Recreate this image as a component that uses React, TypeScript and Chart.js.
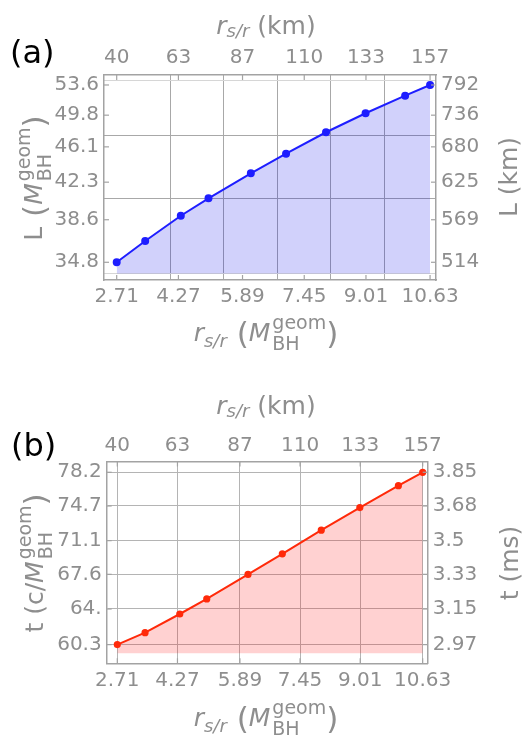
import React, { useEffect, useRef } from 'react';
import { Chart, registerables } from 'chart.js';

Chart.register(...registerables);

// ---------- data ----------
const KM_PER_MBH = 14.77;

const rValues = [2.71, 3.43, 4.33, 5.03, 6.1, 6.99, 8.0, 9.0, 10.0, 10.63];
const lengthValues = [34.8, 36.65, 38.98, 40.67, 43.22, 45.34, 47.77, 50.03, 52.22, 53.6];
const timeValues = [60.3, 61.54, 63.48, 65.05, 67.59, 69.73, 72.19, 74.53, 76.81, 78.2];

const rTickValues = [2.71, 4.27, 5.89, 7.45, 9.01, 10.63];
const rTickLabels = ['2.71', '4.27', '5.89', '7.45', '9.01', '10.63'];
const rKmTickLabels = ['40', '63', '87', '110', '133', '157'];

const lengthTickValues = [34.8, 38.6, 42.3, 46.1, 49.8, 53.6];
const lengthTickLabels = ['34.8', '38.6', '42.3', '46.1', '49.8', '53.6'];
const lengthKmTickLabels = ['514', '569', '625', '680', '736', '792'];

const timeTickValues = [60.3, 64.0, 67.6, 71.1, 74.7, 78.2];
const timeTickLabels = ['60.3', '64.', '67.6', '71.1', '74.7', '78.2'];
const timeMsTickLabels = ['2.97', '3.15', '3.33', '3.5', '3.68', '3.85'];

const rKmGridValues = [60, 80, 100, 120, 140];
const lengthKmGridValues = [500, 600, 700, 800];

// ---------- style ----------
const FONT = '"DejaVu Sans", sans-serif';
const TEXT = '#8e8e8e';
const FRAME = '#a3a3a3';
const GRID_A = '#a8a8a8';
const GRID_A_LIGHT = '#d6d6d6';
const GRID_B = '#b4b4b4';
const BLUE = '#1e1eff';
const BLUE_FILL = 'rgba(0,0,235,0.18)';
const RED = '#ff2a0a';
const RED_FILL = 'rgba(255,0,0,0.18)';

// ---------- rich text ----------
type TextSeg = { text: string; size: number; italic?: boolean; dy?: number };
type StackSeg = { sup: string; sub: string; size: number; supDy: number; subDy: number };
type Seg = TextSeg | StackSeg;
type RichItem = { segs: Seg[]; x: number; y: number; rotate?: boolean; align?: 'center' | 'left'; color?: string };

const fontStr = (size: number, italic?: boolean) => `${italic ? 'italic ' : ''}${size}px ${FONT}`;

function segWidth(ctx: CanvasRenderingContext2D, s: Seg) {
  if ('text' in s) {
    ctx.font = fontStr(s.size, s.italic);
    return ctx.measureText(s.text).width;
  }
  ctx.font = fontStr(s.size);
  return Math.max(ctx.measureText(s.sup).width, ctx.measureText(s.sub).width);
}

function drawRich(ctx: CanvasRenderingContext2D, item: RichItem) {
  ctx.save();
  ctx.translate(item.x, item.y);
  if (item.rotate) ctx.rotate(-Math.PI / 2);
  ctx.fillStyle = item.color || TEXT;
  ctx.textAlign = 'left';
  ctx.textBaseline = 'alphabetic';
  const widths = item.segs.map((s) => segWidth(ctx, s));
  const total = widths.reduce((a, b) => a + b, 0);
  let cx = item.align === 'left' ? 0 : -total / 2;
  item.segs.forEach((s, i) => {
    if ('text' in s) {
      ctx.font = fontStr(s.size, s.italic);
      ctx.fillText(s.text, cx, s.dy || 0);
    } else {
      ctx.font = fontStr(s.size);
      ctx.fillText(s.sup, cx, s.supDy);
      ctx.fillText(s.sub, cx, s.subDy);
    }
    cx += widths[i];
  });
  ctx.restore();
}

const rSub = (dy: number): Seg[] => [
  { text: 'r', size: 25, italic: true },
  { text: 's/r', size: 18, italic: true, dy },
];
const mGeom: Seg[] = [
  { text: 'M', size: 25, italic: true },
  { text: '\u2009', size: 10 },
  { sup: 'geom', sub: 'BH', size: 19, supDy: -12, subDy: 9 },
];
const openParen: Seg = { text: ' (', size: 31, dy: 3 };
const closeParen: Seg = { text: ')', size: 31, dy: 3 };

const titlesPlugin = {
  id: 'richTitles',
  afterDraw(chart: any, _args: any, opts: any) {
    const ctx = chart.ctx as CanvasRenderingContext2D;
    (opts.items || []).forEach((it: RichItem) => drawRich(ctx, it));
  },
};

const frameTicksPlugin = {
  id: 'frameTicks',
  afterDatasetsDraw(chart: any, _args: any, opts: any) {
    const ctx = chart.ctx as CanvasRenderingContext2D;
    const { left, right, top, bottom } = chart.chartArea;
    const len = opts.length || 5;
    ctx.save();
    ctx.strokeStyle = FRAME;
    ctx.lineWidth = 1.2;
    ['x', 'x2', 'y', 'y2'].forEach((id) => {
      const s = chart.scales[id];
      if (!s) return;
      s.ticks.forEach((t: any) => {
        const p = s.getPixelForValue(t.value);
        ctx.beginPath();
        if (s.position === 'bottom') { ctx.moveTo(p, bottom); ctx.lineTo(p, bottom - len); }
        else if (s.position === 'top') { ctx.moveTo(p, top); ctx.lineTo(p, top + len); }
        else if (s.position === 'left') { ctx.moveTo(left, p); ctx.lineTo(left + len, p); }
        else { ctx.moveTo(right, p); ctx.lineTo(right - len, p); }
        ctx.stroke();
      });
    });
    ctx.restore();
  },
};

// ---------- axes ----------
type AxisOpts = {
  type: 'linear' | 'logarithmic';
  position: 'top' | 'bottom' | 'left' | 'right';
  min: number;
  max: number;
  values: number[];
  labels?: string[];
  thickness: number;
  padding?: number;
  grid?: any;
};

function axis(o: AxisOpts) {
  const horizontal = o.position === 'top' || o.position === 'bottom';
  return {
    type: o.type,
    position: o.position,
    axis: horizontal ? 'x' : 'y',
    min: o.min,
    max: o.max,
    bounds: 'data',
    afterBuildTicks: (s: any) => {
      s.ticks = o.values.map((v) => ({ value: v }));
    },
    afterFit: (s: any) => {
      if (horizontal) s.height = o.thickness;
      else s.width = o.thickness;
    },
    ticks: o.labels
      ? {
          display: true,
          autoSkip: false,
          maxRotation: 0,
          minRotation: 0,
          padding: o.padding ?? 5,
          color: TEXT,
          font: { family: FONT, size: 20 },
          callback: (_v: any, i: number) => o.labels![i],
        }
      : { display: false },
    grid: o.grid ?? { display: false, drawTicks: false },
    border: o.labels ? { display: true, color: FRAME, width: 1.5 } : { display: false },
  };
}

// ---------- chart configs ----------
const A_X = [2.389, 10.78];
const A_Y = [33.33, 54.92];
const A_FILL_BASE = 500 / KM_PER_MBH;

const B_X = [2.435, 10.76];
const B_Y = [58.36, 79.32];
const B_FILL_BASE = 59.4;

function configA(): any {
  return {
    type: 'line',
    data: {
      datasets: [
        {
          data: rValues.map((r, i) => ({ x: r, y: lengthValues[i] })),
          xAxisID: 'x',
          yAxisID: 'y',
          borderColor: BLUE,
          backgroundColor: BLUE_FILL,
          pointBackgroundColor: BLUE,
          pointBorderColor: BLUE,
          pointRadius: 3,
          borderWidth: 2,
          tension: 0,
          fill: { value: A_FILL_BASE },
        },
      ],
    },
    options: {
      responsive: false,
      animation: false,
      devicePixelRatio: 1,
      layout: { padding: 0 },
      plugins: {
        legend: { display: false },
        tooltip: { enabled: false },
        frameTicks: { length: 5 },
        richTitles: {
          items: [
            { segs: [...rSub(3), { text: ' (km)', size: 25 }], x: 266, y: 34 },
            { segs: [...rSub(6), openParen, ...mGeom, closeParen], x: 266, y: 341 },
            { segs: [{ text: 'L', size: 25 }, openParen, ...mGeom, closeParen], x: 42, y: 178, rotate: true },
            { segs: [{ text: 'L (km)', size: 25 }], x: 517, y: 177, rotate: true },
            { segs: [{ text: '(a)', size: 32 }], x: 10, y: 63, align: 'left', color: '#000' },
          ],
        },
      },
      scales: {
        x: axis({ type: 'linear', position: 'bottom', min: A_X[0], max: A_X[1], values: rTickValues, labels: rTickLabels, thickness: 456, padding: 5 }),
        x2: axis({ type: 'linear', position: 'top', min: A_X[0], max: A_X[1], values: rTickValues, labels: rKmTickLabels, thickness: 75, padding: 5 }),
        y: axis({ type: 'logarithmic', position: 'left', min: A_Y[0], max: A_Y[1], values: lengthTickValues, labels: lengthTickLabels, thickness: 104, padding: 5 }),
        y2: axis({ type: 'logarithmic', position: 'right', min: A_Y[0], max: A_Y[1], values: lengthTickValues, labels: lengthKmTickLabels, thickness: 94, padding: 5 }),
        gx: axis({
          type: 'linear', position: 'top', min: A_X[0] * KM_PER_MBH, max: A_X[1] * KM_PER_MBH,
          values: rKmGridValues, thickness: 0,
          grid: { display: true, drawTicks: false, color: GRID_A, lineWidth: 1 },
        }),
        gy: axis({
          type: 'logarithmic', position: 'right', min: A_Y[0] * KM_PER_MBH, max: A_Y[1] * KM_PER_MBH,
          values: lengthKmGridValues, thickness: 0,
          grid: {
            display: true, drawTicks: false, lineWidth: 1,
            color: (c: any) => (c.tick && (c.tick.value === 500 || c.tick.value === 800) ? GRID_A_LIGHT : GRID_A),
          },
        }),
      },
    },
    plugins: [titlesPlugin, frameTicksPlugin],
  };
}

function configB(): any {
  const grid = { display: true, drawTicks: false, color: GRID_B, lineWidth: 1 };
  return {
    type: 'line',
    data: {
      datasets: [
        {
          data: rValues.map((r, i) => ({ x: r, y: timeValues[i] })),
          xAxisID: 'x',
          yAxisID: 'y',
          borderColor: RED,
          backgroundColor: RED_FILL,
          pointBackgroundColor: RED,
          pointBorderColor: RED,
          pointRadius: 2.6,
          borderWidth: 2,
          tension: 0,
          fill: { value: B_FILL_BASE },
        },
      ],
    },
    options: {
      responsive: false,
      animation: false,
      devicePixelRatio: 1,
      layout: { padding: 0 },
      plugins: {
        legend: { display: false },
        tooltip: { enabled: false },
        frameTicks: { length: 5 },
        richTitles: {
          items: [
            { segs: [...rSub(3), { text: ' (km)', size: 25 }], x: 266, y: 414 },
            { segs: [...rSub(6), openParen, ...mGeom, closeParen], x: 266, y: 726 },
            { segs: [{ text: 't (c/', size: 25 }, ...mGeom, closeParen], x: 43, y: 563, rotate: true },
            { segs: [{ text: 't (ms)', size: 25 }], x: 518, y: 563, rotate: true },
            { segs: [{ text: '(b)', size: 32 }], x: 11, y: 456, align: 'left', color: '#000' },
          ],
        },
      },
      scales: {
        x: axis({ type: 'linear', position: 'bottom', min: B_X[0], max: B_X[1], values: rTickValues, labels: rTickLabels, thickness: 72.7, padding: 5, grid }),
        x2: axis({ type: 'linear', position: 'top', min: B_X[0], max: B_X[1], values: rTickValues, labels: rKmTickLabels, thickness: 461.5, padding: 4 }),
        y: axis({ type: 'linear', position: 'left', min: B_Y[0], max: B_Y[1], values: timeTickValues, labels: timeTickLabels, thickness: 106.7, padding: 5, grid }),
        y2: axis({ type: 'linear', position: 'right', min: B_Y[0], max: B_Y[1], values: timeTickValues, labels: timeMsTickLabels, thickness: 102.3, padding: 5 }),
      },
    },
    plugins: [titlesPlugin, frameTicksPlugin],
  };
}

function ChartCanvas({ make }: { make: () => any }) {
  const ref = useRef<HTMLCanvasElement>(null);
  useEffect(() => {
    const chart = new Chart(ref.current as HTMLCanvasElement, make());
    return () => chart.destroy();
  }, [make]);
  return (
    <canvas
      ref={ref}
      width={530}
      height={736}
      style={{ position: 'absolute', left: 0, top: 0, width: 530, height: 736, display: 'block' }}
    />
  );
}

export default function App() {
  return (
    <div style={{ position: 'absolute', left: 0, top: 0, width: 530, height: 736, background: '#fff', overflow: 'hidden' }}>
      <ChartCanvas make={configA} />
      <ChartCanvas make={configB} />
    </div>
  );
}
